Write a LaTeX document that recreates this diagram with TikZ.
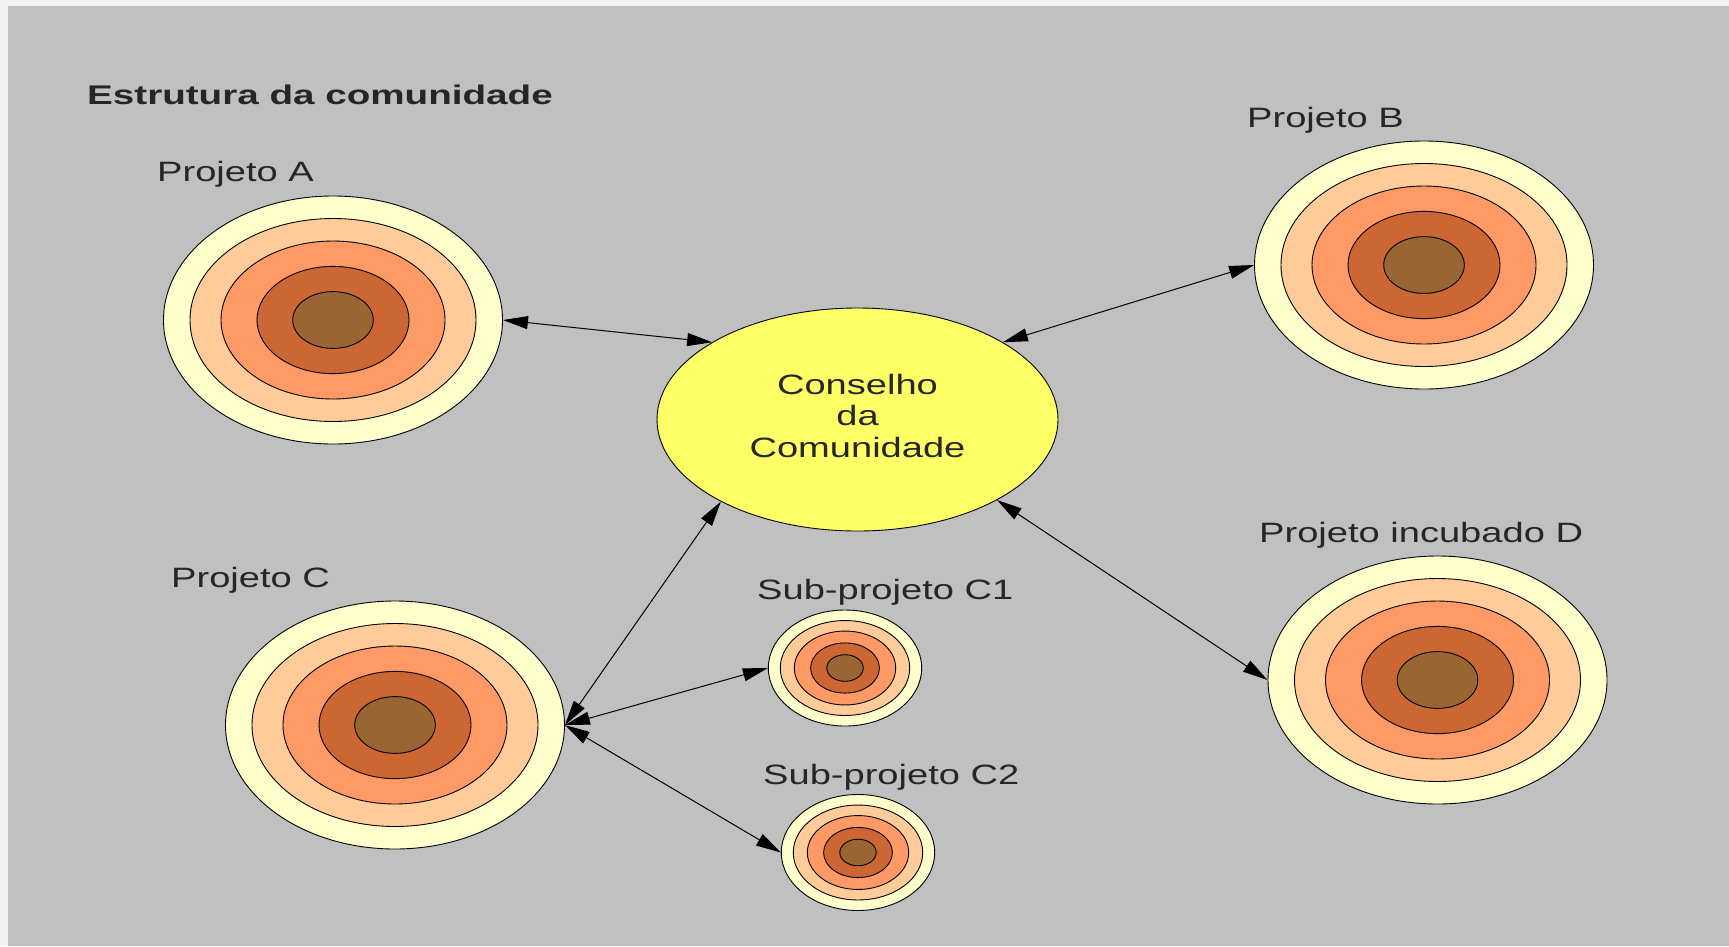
\documentclass[tikz,border=0pt]{standalone}
\usepackage{fontspec}
\setmainfont{Liberation Sans}
\usetikzlibrary{shapes.geometric,arrows.meta}
\definecolor{panel}{HTML}{C0C0C0}
\definecolor{outside}{HTML}{F2F2F2}
\definecolor{ringA}{HTML}{FFFFCC}
\definecolor{ringB}{HTML}{FFCC99}
\definecolor{ringC}{HTML}{FF9966}
\definecolor{ringD}{HTML}{CC6633}
\definecolor{ringE}{HTML}{996633}
\definecolor{council}{HTML}{FFFF66}
\newcommand\projrings[3]{%
  \foreach \rx/\ry/\cc in {0.8437/0.8185/ringB,0.6608/0.6371/ringC,0.4484/0.4323/ringD,0.2378/0.2290/ringE}{%
    \draw[ringline, fill=\cc] (#1.center) ellipse [x radius={#2*\rx}, y radius={#3*\ry}];}}
\begin{document}
\begin{tikzpicture}[x=1pt,y=-1pt,
  ringline/.style={draw=black, line width=0.9pt},
  bigring/.style={ellipse, ringline, fill=ringA, minimum width=339pt, minimum height=248pt, inner sep=0pt},
  smallring/.style={ellipse, ringline, fill=ringA, minimum width=153.4pt, minimum height=116pt, inner sep=0pt},
  lbl/.style={anchor=base west, inner sep=0pt, text=black!85, font=\fontsize{28}{31.5}\selectfont},
  ttl/.style={anchor=base west, inner sep=0pt, text=black!85, font=\fontsize{27}{31}\selectfont\bfseries},
  councilnode/.style={ellipse, draw=black, line width=0.9pt, fill=council, minimum width=401pt, minimum height=223pt, inner sep=0pt, text=black!85, font=\fontsize{28}{31.5}\selectfont},
  link/.style={{Triangle[length=25pt,width=13pt]}-{Triangle[length=25pt,width=13pt]}, line width=1pt, black}
]
\useasboundingbox (0,0) rectangle (1729,946);
\fill[outside] (0,0) rectangle (1729,946);
\fill[panel] (8,6) rectangle (1729,946);

\node[ttl] (title) at (87,104) {\scalebox{1.43}[1]{Estrutura da comunidade}};

\node[lbl] (la) at (157,181) {\scalebox{1.36}[1]{Projeto A}};
\node[lbl] (lb) at (1247,127) {\scalebox{1.36}[1]{Projeto B}};
\node[lbl] (lc) at (171,587) {\scalebox{1.36}[1]{Projeto C}};
\node[lbl] (ld) at (1259,542) {\scalebox{1.36}[1]{Projeto incubado D}};
\node[lbl] (lc1) at (757,599) {\scalebox{1.36}[1]{Sub-projeto C1}};
\node[lbl] (lc2) at (763,784) {\scalebox{1.36}[1]{Sub-projeto C2}};

\node[bigring] (pa) at (333,320) {}; \projrings{pa}{169.5}{124}
\node[bigring] (pb) at (1424,265) {}; \projrings{pb}{169.5}{124}
\node[bigring] (pc) at (395,725) {}; \projrings{pc}{169.5}{124}
\node[bigring] (pd) at (1437.5,680) {}; \projrings{pd}{169.5}{124}
\node[smallring] (c1) at (845,668) {}; \projrings{c1}{76.7}{58}
\node[smallring] (c2) at (858,852.5) {}; \projrings{c2}{76.7}{58}

\node[councilnode] (con) at (857.5,419.5) {\scalebox{1.36}[1]{\begin{tabular}{@{}c@{}}Conselho\\da\\Comunidade\end{tabular}}};

\draw[link] (pa.east) -- (con.152);
\draw[link] (pb.west) -- (con.28);
\draw[link] (pd.west) -- (con.-30);
\draw[link] (pc.east) -- (con.211);
\draw[link] (pc.east) -- (c1.west);
\draw[link] (pc.east) -- (c2.west);
\end{tikzpicture}
\end{document}
